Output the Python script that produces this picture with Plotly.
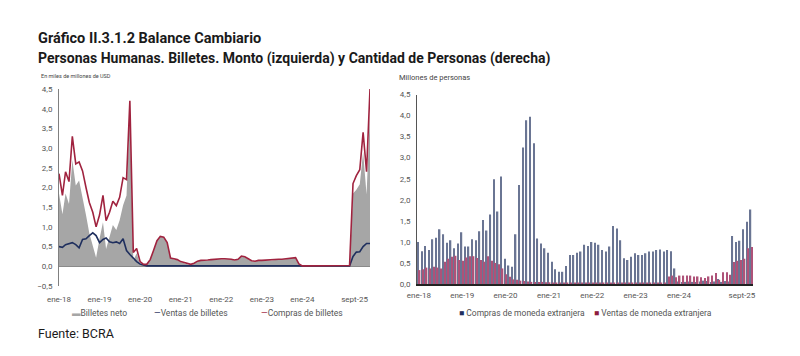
import plotly.graph_objects as go
import pandas as pd

# ---------------- data ----------------
months = pd.date_range("2018-01-01", "2025-09-01", freq="MS")  # 93 months

tick_vals_left = ["2018-01-01", "2019-01-01", "2020-01-01", "2021-01-01",
                  "2022-01-01", "2023-01-01", "2024-01-01", "2025-04-15"]
tick_vals_right = ["2018-01-01", "2019-01-01", "2020-01-01", "2021-01-01",
                   "2022-01-01", "2023-01-01", "2024-01-01", "2025-06-15"]
tick_text = ["ene-18", "ene-19", "ene-20", "ene-21", "ene-22", "ene-23", "ene-24", "sept-25"]

# Left panel: miles de millones de USD
compras_billetes = [
    2.35, 1.80, 2.40, 2.15, 3.30, 2.60, 2.65, 2.42, 2.00, 1.62, 1.37, 1.00,
    1.30, 1.80, 1.16, 1.37, 1.65, 1.54, 1.75, 2.25, 2.20, 4.20, 0.35, 0.45,
    0.12, 0.05, 0.05, 0.17, 0.40, 0.65, 0.76, 0.74, 0.60, 0.21, 0.19, 0.17,
    0.12, 0.09, 0.06, 0.05, 0.08, 0.13, 0.15, 0.15, 0.16, 0.17, 0.18, 0.19,
    0.19, 0.19, 0.19, 0.18, 0.16, 0.18, 0.26, 0.24, 0.19, 0.14, 0.13, 0.15,
    0.15, 0.16, 0.16, 0.16, 0.17, 0.18, 0.18, 0.19, 0.20, 0.22, 0.22, 0.06,
    0.01, 0.01, 0.01, 0.01, 0.01, 0.01, 0.01, 0.01, 0.01, 0.01, 0.01, 0.01,
    0.01, 0.01, 0.02, 2.10, 2.30, 2.45, 3.40, 2.40, 4.50]
ventas_billetes = [
    0.50, 0.48, 0.55, 0.57, 0.60, 0.55, 0.47, 0.68, 0.70, 0.78, 0.85, 0.78,
    0.60, 0.68, 0.72, 0.62, 0.60, 0.62, 0.58, 0.70, 0.40, 0.30, 0.20, 0.12,
    0.06, 0.03, 0.01, 0.01, 0.01, 0.01, 0.01, 0.01, 0.01, 0.01, 0.01, 0.01,
    0.01, 0.01, 0.01, 0.01, 0.01, 0.01, 0.01, 0.01, 0.01, 0.01, 0.01, 0.01,
    0.01, 0.01, 0.01, 0.01, 0.01, 0.01, 0.01, 0.01, 0.01, 0.01, 0.01, 0.01,
    0.01, 0.01, 0.01, 0.01, 0.01, 0.01, 0.01, 0.01, 0.01, 0.01, 0.01, 0.01,
    0.01, 0.01, 0.01, 0.01, 0.01, 0.01, 0.01, 0.01, 0.01, 0.01, 0.01, 0.01,
    0.01, 0.01, 0.01, 0.25, 0.36, 0.37, 0.50, 0.58, 0.58]
billetes_neto = [
    1.85, 1.32, 1.85, 1.58, 2.70, 2.05, 2.18, 1.74, 1.30, 0.84, 0.52, 0.22,
    0.70, 1.12, 0.44, 0.75, 1.05, 0.92, 1.17, 1.55, 1.80, 3.90, 0.15, 0.33,
    0.06, 0.02, 0.04, 0.16, 0.39, 0.64, 0.75, 0.73, 0.59, 0.20, 0.18, 0.16,
    0.11, 0.08, 0.05, 0.04, 0.07, 0.12, 0.14, 0.14, 0.15, 0.16, 0.17, 0.18,
    0.18, 0.18, 0.18, 0.17, 0.15, 0.17, 0.25, 0.23, 0.18, 0.13, 0.12, 0.14,
    0.14, 0.15, 0.15, 0.15, 0.16, 0.17, 0.17, 0.18, 0.19, 0.21, 0.21, 0.05,
    0.00, 0.00, 0.00, 0.00, 0.00, 0.00, 0.00, 0.00, 0.00, 0.00, 0.00, 0.00,
    0.00, 0.00, 0.01, 1.85, 1.94, 2.08, 2.90, 1.82, 3.92]

# Right panel: millones de personas
compras_personas = [
    1.00, 0.78, 0.90, 0.81, 1.06, 1.10, 1.30, 1.18, 0.98, 1.04, 0.85, 0.96,
    1.23, 0.89, 0.89, 1.06, 1.04, 1.25, 1.52, 1.27, 1.65, 2.49, 1.72, 2.55,
    0.60, 0.44, 0.41, 1.18, 2.35, 3.24, 3.89, 3.97, 3.34, 1.08, 0.96, 0.85,
    0.74, 0.53, 0.35, 0.29, 0.29, 0.43, 0.69, 0.69, 0.74, 0.77, 0.93, 0.90,
    1.00, 0.98, 0.93, 0.81, 0.77, 0.89, 1.38, 1.32, 1.04, 0.61, 0.57, 0.65,
    0.73, 0.69, 0.69, 0.73, 0.77, 0.77, 0.81, 0.82, 0.77, 0.81, 0.78, 0.37,
    0.06, 0.05, 0.05, 0.06, 0.05, 0.05, 0.06, 0.08, 0.07, 0.05, 0.06, 0.12,
    0.05, 0.07, 0.06, 1.14, 1.00, 1.03, 1.30, 1.48, 1.77]
ventas_personas = [
    0.33, 0.35, 0.39, 0.37, 0.41, 0.39, 0.37, 0.53, 0.60, 0.65, 0.67, 0.57,
    0.55, 0.63, 0.66, 0.66, 0.62, 0.57, 0.53, 0.66, 0.55, 0.50, 0.47, 0.37,
    0.23, 0.17, 0.11, 0.10, 0.08, 0.07, 0.06, 0.05, 0.05, 0.05, 0.05, 0.04,
    0.04, 0.03, 0.03, 0.03, 0.03, 0.02, 0.02, 0.02, 0.02, 0.02, 0.02, 0.02,
    0.02, 0.02, 0.02, 0.02, 0.02, 0.02, 0.02, 0.02, 0.02, 0.02, 0.02, 0.02,
    0.02, 0.02, 0.02, 0.02, 0.02, 0.02, 0.02, 0.02, 0.02, 0.18, 0.20, 0.16,
    0.20, 0.20, 0.20, 0.20, 0.18, 0.18, 0.16, 0.14, 0.18, 0.20, 0.26, 0.10,
    0.28, 0.28, 0.22, 0.52, 0.55, 0.57, 0.60, 0.85, 0.88]

# ---------------- style ----------------
W, H = 800, 356
FONT = "Roboto"
GRAY_FILL = "#A6A6A6"
RED = "#A0233F"
NAVY = "#1F2F5E"
BAR_NAVY = "#6A7593"
BAR_PINK = "#AE5278"
TICK_COLOR = "#555555"


def px(x):
    return x / W


def py(y):
    return 1 - y / H


fig = go.Figure()

# Left panel
fig.add_trace(go.Scatter(x=months, y=billetes_neto, name="Billetes neto",
                         mode="none", fill="tozeroy", fillcolor=GRAY_FILL,
                         xaxis="x", yaxis="y", showlegend=False))
fig.add_trace(go.Scatter(x=months, y=ventas_billetes, name="Ventas de billetes",
                         mode="lines", line=dict(color=NAVY, width=1.6),
                         xaxis="x", yaxis="y", showlegend=False))
fig.add_trace(go.Scatter(x=months, y=compras_billetes, name="Compras de billetes",
                         mode="lines", line=dict(color=RED, width=1.6),
                         xaxis="x", yaxis="y", showlegend=False))

# Right panel
fig.add_trace(go.Bar(x=months, y=compras_personas, name="Compras de moneda extranjera",
                     marker=dict(color=BAR_NAVY, line=dict(width=0)),
                     xaxis="x2", yaxis="y2", showlegend=False))
fig.add_trace(go.Bar(x=months, y=ventas_personas, name="Ventas de moneda extranjera",
                     marker=dict(color=BAR_PINK, line=dict(width=0)),
                     xaxis="x2", yaxis="y2", showlegend=False))

axis_font = dict(family=FONT, size=8, color=TICK_COLOR)

fig.update_layout(
    template="none",
    width=W, height=H, autosize=False,
    margin=dict(l=0, r=0, t=0, b=0, pad=0, autoexpand=False),
    paper_bgcolor="white", plot_bgcolor="white",
    separators=",.",
    barmode="group", bargap=0.12, bargroupgap=0.0,
    font=dict(family=FONT, color="#222222"),
    xaxis=dict(domain=[px(59), px(370)], range=["2018-01-01", "2025-09-01"],
               tickvals=tick_vals_left, ticktext=tick_text, tickfont=axis_font,
               showgrid=False, zeroline=False, showline=False, ticks="",
               ticklabelstandoff=7, automargin=False, anchor="y"),
    yaxis=dict(domain=[py(286), py(89)], range=[-0.5, 4.5], dtick=0.5,
               tickformat=".1f", tickfont=axis_font, showgrid=False,
               zeroline=True, zerolinecolor="#808080", zerolinewidth=1.5,
               showline=True, linecolor="#808080", linewidth=1, ticks="",
               ticklabelstandoff=4, automargin=False, anchor="x"),
    xaxis2=dict(domain=[px(417), px(753)], range=["2017-12-16", "2025-09-16"],
                tickvals=tick_vals_right, ticktext=tick_text, tickfont=axis_font,
                showgrid=False, zeroline=False, showline=True,
                linecolor="#222222", linewidth=1.5, ticks="",
                ticklabelstandoff=3, automargin=False, anchor="y2"),
    yaxis2=dict(domain=[py(284), py(94.5)], range=[0, 4.5], dtick=0.5,
                tickformat=".1f", tickfont=axis_font, showgrid=False,
                zeroline=False, showline=True, linecolor="#555555", linewidth=1,
                ticks="", ticklabelstandoff=4, automargin=False, anchor="x2"),
)

LEG = dict(family=FONT, size=8.5, color="#555555")
annotations = [
    dict(x=px(36), y=py(38), text="<b>Gráfico II.3.1.2 Balance Cambiario</b>",
         font=dict(family=FONT, size=14.5, color="#1a1a1a")),
    dict(x=px(36), y=py(58),
         text="<b>Personas Humanas. Billetes. Monto (izquierda) y Cantidad de Personas (derecha)</b>",
         font=dict(family=FONT, size=14, color="#1a1a1a")),
    dict(x=px(39), y=py(76), text="En miles de millones de USD",
         font=dict(family=FONT, size=5.5, color="#444444")),
    dict(x=px(397), y=py(77), text="Millones de personas",
         font=dict(family=FONT, size=7.5, color="#444444")),
    dict(x=px(36), y=py(333), text="Fuente: BCRA",
         font=dict(family=FONT, size=12.5, color="#1a1a1a")),
    # legend left
    dict(x=px(70), y=py(313),
         text=f"<span style='color:{GRAY_FILL}'>▬</span>Billetes neto", font=LEG),
    dict(x=px(152), y=py(313),
         text=f"<span style='color:{NAVY}'>—</span>Ventas de billetes", font=LEG),
    dict(x=px(259), y=py(313),
         text=f"<span style='color:{RED}'>—</span>Compras de billetes", font=LEG),
    # legend right
    dict(x=px(457), y=py(313),
         text=f"<span style='color:{NAVY}'>■</span> Compras de moneda extranjera", font=LEG),
    dict(x=px(592), y=py(313),
         text=f"<span style='color:#8E1C3F'>■</span> Ventas de moneda extranjera", font=LEG),
]
for a in annotations:
    a.update(xref="paper", yref="paper", xanchor="left", yanchor="middle",
             showarrow=False)
fig.update_layout(annotations=annotations)

fig.write_html("out.html",
               config={"displayModeBar": False},
               post_script="document.body.style.margin='0';document.body.style.padding='0';")
